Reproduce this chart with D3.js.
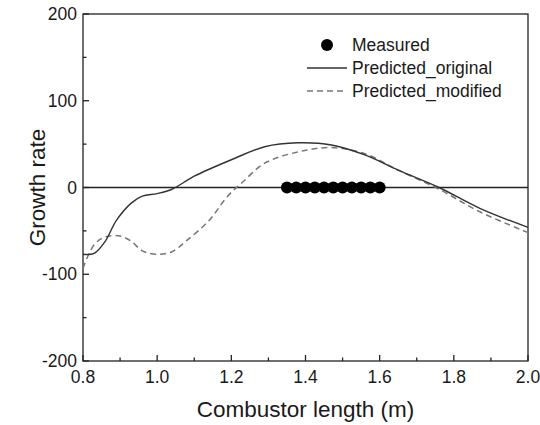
<!DOCTYPE html>
<html>
<head>
<meta charset="utf-8">
<script src="https://cdn.jsdelivr.net/npm/d3@7"></script>
<style>
  body { margin: 0; background: #fff; }
  text { font-family: "Liberation Sans", Arial, sans-serif; fill: #1a1a1a; }
</style>
</head>
<body>
<div id="chart"></div>
<script>
// values
const origX = [0.80, 0.83, 0.86, 0.89, 0.93, 0.96, 1.00, 1.04, 1.10, 1.20, 1.29, 1.38, 1.47, 1.56, 1.65, 1.76, 1.87, 2.00];
const origY = [-77, -76, -62, -38, -18, -10, -7, -2, 13, 32, 47, 51.5, 49, 37.5, 20, 0, -24, -46];
const modX = [0.80, 0.83, 0.86, 0.90, 0.93, 0.96, 1.00, 1.04, 1.08, 1.14, 1.19, 1.23, 1.29, 1.38, 1.47, 1.56, 1.65, 1.76, 1.87, 2.00];
const modY = [-93, -66, -57, -56, -62, -73, -77, -74, -61, -38, -10, 6, 28, 41, 46, 39, 20, -2, -28, -52];
const measX = [1.35, 1.375, 1.40, 1.425, 1.45, 1.475, 1.50, 1.525, 1.55, 1.575, 1.60];
const measY = [0, 0, 0, 0, 0, 0, 0, 0, 0, 0, 0];
const xTicks = [0.8, 1.0, 1.2, 1.4, 1.6, 1.8, 2.0];
const yTicks = [-200, -100, 0, 100, 200];
const legendLabels = ["Measured", "Predicted_original", "Predicted_modified"];

const width = 540, height = 425;
const margin = {top: 14, right: 12, bottom: 64, left: 83};

const svg = d3.select('#chart').append('svg')
  .attr('width', width)
  .attr('height', height);

const x = d3.scaleLinear().domain([0.8, 2.0]).range([margin.left, width - margin.right]);
const y = d3.scaleLinear().domain([-200, 200]).range([height - margin.bottom, margin.top]);

//minor ticks
const xMinor = d3.range(0.9, 2.0, 0.2);
const yMinor = [-150, -50, 50, 150];

const axisG = svg.append('g').attr('stroke', '#222').attr('stroke-width', 1.3);

// frame
axisG.append('rect')
  .attr('x', x(0.8)).attr('y', y(200))
  .attr('width', x(2.0) - x(0.8)).attr('height', y(-200) - y(200))
  .attr('fill', 'none');

// inward ticks
xTicks.forEach(t => {
  axisG.append('line').attr('x1', x(t)).attr('x2', x(t)).attr('y1', y(-200)).attr('y2', y(-200) - 6);
});
xMinor.forEach(t => {
  axisG.append('line').attr('x1', x(t)).attr('x2', x(t)).attr('y1', y(-200)).attr('y2', y(-200) - 3.5);
});
yTicks.forEach(t => {
  axisG.append('line').attr('x1', x(0.8)).attr('x2', x(0.8) + 6).attr('y1', y(t)).attr('y2', y(t));
});
yMinor.forEach(t => {
  axisG.append('line').attr('x1', x(0.8)).attr('x2', x(0.8) + 3.5).attr('y1', y(t)).attr('y2', y(t));
});

// tick labels
svg.append('g').selectAll('text')
  .data(xTicks).enter().append('text')
  .attr('x', d => x(d))
  .attr('y', y(-200) + 22)
  .attr('text-anchor', 'middle')
  .attr('font-size', 17.5)
  .text(d => d3.format('.1f')(d));

svg.append('g').selectAll('text')
  .data(yTicks).enter().append('text')
  .attr('x', x(0.8) - 6)
  .attr('y', d => y(d) + 6)
  .attr('text-anchor', 'end')
  .attr('font-size', 17.5)
  .text(d => d);

// axis titles
svg.append('text')
  .attr('x', (x(0.8) + x(2.0)) / 2)
  .attr('y', 417)
  .attr('text-anchor', 'middle')
  .attr('font-size', 22.5)
  .text('Combustor length (m)');

svg.append('text')
  .attr('transform', 'translate(45,' + y(0) + ') rotate(-90)')
  .attr('text-anchor', 'middle')
  .attr('font-size', 22.5)
  .text('Growth rate');

// zero line
svg.append('line')
  .attr('x1', x(0.8)).attr('x2', x(2.0))
  .attr('y1', y(0)).attr('y2', y(0))
  .attr('stroke', '#222').attr('stroke-width', 1.3);

const line = d3.line()
  .x(d => x(d[0]))
  .y(d => y(d[1]))
  .curve(d3.curveCatmullRom.alpha(0.5));

svg.append('path')
  .datum(d3.zip(modX, modY))
  .attr('d', line)
  .attr('fill', 'none')
  .attr('stroke', '#777')
  .attr('stroke-width', 1.5)
  .attr('stroke-dasharray', '6,4');

svg.append('path')
  .datum(d3.zip(origX, origY))
  .attr('d', line)
  .attr('fill', 'none')
  .attr('stroke', '#333')
  .attr('stroke-width', 1.4);

svg.append('g').selectAll('circle')
  .data(d3.zip(measX, measY))
  .enter().append('circle')
  .attr('cx', d => x(d[0]))
  .attr('cy', d => y(d[1]))
  .attr('r', 6)
  .attr('fill', '#000');

// legend
const lg = svg.append('g').attr('transform', 'translate(307,45)');
lg.append('circle').attr('cx', 20).attr('cy', 0).attr('r', 6).attr('fill', '#000');
lg.append('line').attr('x1', 0).attr('x2', 40).attr('y1', 23).attr('y2', 23)
  .attr('stroke', '#333').attr('stroke-width', 1.4);
lg.append('line').attr('x1', 0).attr('x2', 40).attr('y1', 46).attr('y2', 46)
  .attr('stroke', '#777').attr('stroke-width', 1.5).attr('stroke-dasharray', '6,4');
lg.selectAll('text')
  .data(legendLabels).enter().append('text')
  .attr('x', 45)
  .attr('y', (d, i) => i * 23 + 6)
  .attr('font-size', 17.5)
  .text(d => d);
</script>
</body>
</html>
